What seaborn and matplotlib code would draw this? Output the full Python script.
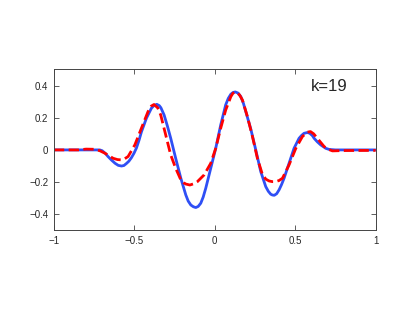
import pandas as pd
import seaborn as sns
import matplotlib
matplotlib.use("Agg")
import matplotlib.pyplot as plt

# values
blue_x = [-1.0, -0.75, -0.715, -0.70, -0.68, -0.664, -0.64, -0.62, -0.60, -0.58,
          -0.565, -0.55, -0.534, -0.518, -0.502, -0.487, -0.471, -0.456, -0.425,
          -0.394, -0.377, -0.36, -0.345, -0.335, -0.315, -0.295, -0.274, -0.243,
          -0.211, -0.18, -0.165, -0.149, -0.133, -0.118, -0.103, -0.087, -0.072,
          -0.056, -0.025, 0.006, 0.037, 0.068, 0.084, 0.1, 0.114, 0.128, 0.145,
          0.162, 0.178, 0.193, 0.224, 0.255, 0.286, 0.317, 0.333, 0.348, 0.358,
          0.37, 0.385, 0.4, 0.415, 0.431, 0.462, 0.493, 0.524, 0.54, 0.555,
          0.575, 0.59, 0.607, 0.618, 0.638, 0.659, 0.69, 0.711, 0.75, 1.0]
blue_y = [0.0, 0.0, 0.0, -0.005, -0.022, -0.041, -0.065, -0.083, -0.096, -0.1,
          -0.097, -0.085, -0.07, -0.048, -0.02, 0.012, 0.06, 0.112, 0.197,
          0.259, 0.277, 0.283, 0.275, 0.262, 0.217, 0.15, 0.073, -0.052,
          -0.176, -0.28, -0.318, -0.342, -0.353, -0.358, -0.351, -0.331, -0.293,
          -0.238, -0.114, 0.01, 0.155, 0.28, 0.32, 0.346, 0.357, 0.36, 0.353,
          0.331, 0.29, 0.238, 0.13, 0.0, -0.135, -0.228, -0.257, -0.275, -0.28,
          -0.282, -0.272, -0.248, -0.216, -0.176, -0.083, 0.01, 0.072, 0.09, 0.103,
          0.108, 0.104, 0.089, 0.072, 0.05, 0.031, 0.01, 0.003, 0.0, 0.0]

red_x = [-1.0, -0.85, -0.8, -0.75, -0.715, -0.684, -0.655, -0.632, -0.605, -0.58,
         -0.56, -0.539, -0.497, -0.456, -0.415, -0.395, -0.378, -0.355, -0.336,
         -0.305, -0.274, -0.243, -0.211, -0.195, -0.18, -0.155, -0.13, -0.108,
         -0.066, -0.025, 0.006, 0.037, 0.068, 0.1, 0.113, 0.128, 0.142, 0.155,
         0.172, 0.203, 0.234, 0.265, 0.297, 0.318, 0.338, 0.358, 0.379, 0.40,
         0.421, 0.462, 0.504, 0.545, 0.575, 0.595, 0.615, 0.638, 0.68, 0.705,
         0.732, 0.8, 1.0]
red_y = [0.0, 0.0, 0.005, 0.004, -0.005, -0.02, -0.038, -0.052, -0.06, -0.062,
         -0.055, -0.041, 0.031, 0.135, 0.238, 0.272, 0.282, 0.262, 0.217,
         0.093, -0.031, -0.114, -0.186, -0.203, -0.212, -0.218, -0.21, -0.197,
         -0.155, -0.083, 0.01, 0.135, 0.248, 0.331, 0.352, 0.36, 0.353, 0.34,
         0.31, 0.207, 0.085, -0.052, -0.155, -0.182, -0.193, -0.197, -0.197, -0.19,
         -0.176, -0.093, 0.01, 0.083, 0.11, 0.114, 0.1, 0.072, 0.021, 0.004,
         -0.006, -0.004, -0.003]

label = "k=19"

sns.set_theme(style="ticks")
plt.rcParams['font.family'] = ['Liberation Sans', 'DejaVu Sans']

fig = plt.figure(figsize=(4.15, 3.12), dpi=100)
ax = fig.add_axes([0.130, 0.2615, 0.775, 0.516])

df_blue = pd.DataFrame({'x': blue_x, 'y': blue_y})
df_red = pd.DataFrame({'x': red_x, 'y': red_y})
sns.lineplot(data=df_blue, x='x', y='y', ax=ax, color='#2f4ff5', linewidth=2.0)
sns.lineplot(data=df_red, x='x', y='y', ax=ax, color='#ff0000', linewidth=2.0,
             linestyle='--')

ax.set_xlim(-1, 1)
ax.set_ylim(-0.5, 0.5)
ax.set_xticks([-1, -0.5, 0, 0.5, 1])
ax.set_xticklabels(['\u22121', '\u22120.5', '0', '0.5', '1'])
ax.set_yticks([-0.4, -0.2, 0, 0.2, 0.4])
ax.set_yticklabels(['\u22120.4', '\u22120.2', '0', '0.2', '0.4'])
ax.set_xlabel('')
ax.set_ylabel('')
ax.tick_params(direction='in', length=3.5, width=0.6, labelsize=7,
               top=True, right=True, color='#444444', pad=4)
for s in ax.spines.values():
    s.set_linewidth(0.7)
    s.set_color('#444444')

ax.text(0.711, 0.393, label, fontsize=12, ha='center', va='center')

fig.savefig('out.png', dpi=100)
